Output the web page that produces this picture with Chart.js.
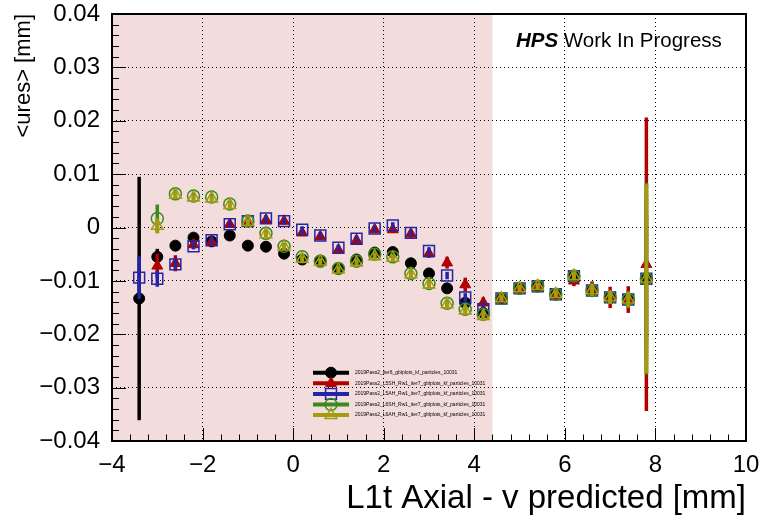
<!DOCTYPE html>
<html>
<head>
<meta charset="utf-8">
<script src="https://cdn.jsdelivr.net/npm/chart.js@4.4.0/dist/chart.umd.min.js"></script>
<style>
  html, body { margin: 0; padding: 0; background: #fff; }
  #wrap { width: 773px; height: 521px; }
</style>
</head>
<body>
<div id="wrap"><canvas id="chart" width="773" height="521"></canvas></div>
<script>
// bin centres, L1t Axial - v predicted [mm]
const binCenters = [-3.4, -3.0, -2.6, -2.2, -1.8, -1.4, -1.0, -0.6, -0.2, 0.2, 0.6, 1.0, 1.4, 1.8, 2.2,
                    2.6, 3.0, 3.4, 3.8, 4.2, 4.6, 5.0, 5.4, 5.8, 6.2, 6.6, 7.0, 7.4, 7.8];

// <ures> [mm] per sample, null = empty bin
const iter6Res = [-0.0133, -0.0055, -0.0034, -0.0019, -0.0026, -0.0015, -0.0034, -0.0036, -0.0049, -0.0060,
                  -0.0062, -0.0077, -0.0060, -0.0047, -0.0046, -0.0067, -0.0086, -0.0114, -0.0141, -0.0160,
                  -0.0133, -0.0114, -0.0110, -0.0125, -0.0091, -0.0118, -0.0131, -0.0135, -0.0096];
const iter6Err = [0.0228, 0.0015, 0.0008, 0.0006, 0.0006, 0.0006, 0.0006, 0.0006, 0.0006, 0.0006,
                  0.0006, 0.0006, 0.0006, 0.0006, 0.0006, 0.0006, 0.0006, 0.0007, 0.0008, 0.0010,
                  0.0006, 0.0006, 0.0006, 0.0007, 0.0008, 0.0010, 0.0012, 0.0015, 0.0150];

const l5shRes = [null, -0.0072, -0.0067, -0.0032, -0.0027, 0.0006, 0.0012, 0.0014, 0.0012, -0.0010,
                 -0.0017, -0.0042, -0.0024, -0.0004, -0.0004, -0.0012, -0.0049, -0.0066, -0.0107, -0.0141,
                 -0.0133, -0.0116, -0.0111, -0.0128, -0.0100, -0.0115, -0.0131, -0.0135, -0.0069];
const l5shErr = [null, 0.0023, 0.0015, 0.0008, 0.0007, 0.0006, 0.0006, 0.0006, 0.0006, 0.0006,
                 0.0006, 0.0006, 0.0006, 0.0006, 0.0006, 0.0007, 0.0008, 0.0011, 0.0013, 0.0010,
                 0.0008, 0.0007, 0.0007, 0.0008, 0.0010, 0.0014, 0.0020, 0.0025, 0.0275];

const l5ahRes = [-0.0094, -0.0096, -0.0069, -0.0035, -0.0024, 0.0006, 0.0012, 0.0017, 0.0012, -0.0004,
                 -0.0015, -0.0038, -0.0021, -0.0002, 0.0004, -0.0010, -0.0044, -0.0090, -0.0131, -0.0153,
                 -0.0133, -0.0114, -0.0110, -0.0125, -0.0091, -0.0118, -0.0131, -0.0135, -0.0096];
const l5ahErr = [0.0040, 0.0015, 0.0008, 0.0006, 0.0006, 0.0006, 0.0006, 0.0006, 0.0006, 0.0006,
                 0.0006, 0.0006, 0.0006, 0.0006, 0.0006, 0.0006, 0.0007, 0.0007, 0.0008, 0.0009,
                 0.0006, 0.0006, 0.0006, 0.0007, 0.0008, 0.0010, 0.0012, 0.0015, 0.0120];

const l6shRes = [null, 0.0017, 0.0063, 0.0059, 0.0057, 0.0044, 0.0012, -0.0011, -0.0035, -0.0055,
                 -0.0063, -0.0077, -0.0063, -0.0050, -0.0055, -0.0086, -0.0105, -0.0142, -0.0153, -0.0163,
                 -0.0133, -0.0114, -0.0110, -0.0125, -0.0091, -0.0118, -0.0131, -0.0135, -0.0096];
const l6shErr = [null, 0.0026, 0.0008, 0.0006, 0.0006, 0.0006, 0.0006, 0.0006, 0.0006, 0.0006,
                 0.0006, 0.0006, 0.0006, 0.0006, 0.0006, 0.0006, 0.0007, 0.0007, 0.0008, 0.0009,
                 0.0006, 0.0006, 0.0006, 0.0007, 0.0008, 0.0010, 0.0012, 0.0015, 0.0180];

const l6ahRes = [null, 0.0003, 0.0061, 0.0056, 0.0054, 0.0042, 0.0010, -0.0013, -0.0036, -0.0059,
                 -0.0064, -0.0079, -0.0066, -0.0054, -0.0057, -0.0088, -0.0107, -0.0144, -0.0156, -0.0166,
                 -0.0133, -0.0114, -0.0110, -0.0125, -0.0091, -0.0118, -0.0131, -0.0135, -0.0096];
const l6ahErr = [null, 0.0014, 0.0008, 0.0006, 0.0006, 0.0006, 0.0006, 0.0006, 0.0006, 0.0006,
                 0.0006, 0.0006, 0.0006, 0.0006, 0.0006, 0.0006, 0.0007, 0.0007, 0.0008, 0.0009,
                 0.0006, 0.0006, 0.0006, 0.0007, 0.0008, 0.0010, 0.0012, 0.0015, 0.0177];

const seriesNames = [
    '2019Pass2_iter6_gblplots_kf_particles_10031',
    '2019Pass2_L5SH_Rw1_iter7_gblplots_kf_particles_10031',
    '2019Pass2_L5AH_Rw1_iter7_gblplots_kf_particles_10031',
    '2019Pass2_L6SH_Rw1_iter7_gblplots_kf_particles_10031',
    '2019Pass2_L6AH_Rw1_iter7_gblplots_kf_particles_10031'
];

// shaded band on x
const bandLow = -4;
const bandHigh = 4.4;

const FONT = '"Liberation Sans", Arial, Helvetica, sans-serif';

function toPoints(res, err) {
    const pts = [];
    binCenters.forEach((x, i) => {
        if (res[i] !== null) pts.push({ x: x, y: res[i], err: err[i] });
    });
    return pts;
}

function fmtTick(value) {
    const v = Math.round(value * 1000) / 1000;
    return String(v).replace('-', '\u2212');
}

// vertical error bars, drawn just before each dataset's markers
const errorBars = {
    id: 'errorBars',
    beforeDatasetDraw(chart, args) {
        const ds = chart.data.datasets[args.index];
        const { ctx, chartArea: a, scales: { x, y } } = chart;
        ctx.save();
        ctx.beginPath();
        ctx.rect(a.left, a.top, a.right - a.left, a.bottom - a.top);
        ctx.clip();
        ctx.strokeStyle = ds.borderColor;
        ctx.lineWidth = ds.errWidth;
        ds.data.forEach(p => {
            const px = x.getPixelForValue(p.x);
            ctx.beginPath();
            ctx.moveTo(px, y.getPixelForValue(p.y + p.err));
            ctx.lineTo(px, y.getPixelForValue(p.y - p.err));
            ctx.stroke();
        });
        ctx.restore();
    }
};

const band = {
    id: 'band',
    beforeDraw(chart) {
        const { ctx, chartArea: a, scales: { x } } = chart;
        ctx.save();
        ctx.fillStyle = '#f2dcdc';
        const x0 = x.getPixelForValue(bandLow);
        const x1 = x.getPixelForValue(bandHigh);
        ctx.fillRect(x0, a.top, x1 - x0, a.bottom - a.top);
        ctx.restore();
    }
};

// ROOT-like frame with inward ticks
const frame = {
    id: 'frame',
    afterDatasetsDraw(chart) {
        const { ctx, chartArea: a, scales: { x, y } } = chart;
        ctx.save();
        ctx.strokeStyle = '#000';
        ctx.lineWidth = 1;
        ctx.beginPath();
        for (let k = 0; k <= 35; k++) {
            const px = Math.round(x.getPixelForValue(-4 + k * 0.4)) + 0.5;
            const len = k % 5 === 0 ? 13 : 6.5;
            ctx.moveTo(px, a.bottom);
            ctx.lineTo(px, a.bottom - len);
        }
        for (let k = 0; k <= 40; k++) {
            const py = Math.round(y.getPixelForValue(-0.04 + k * 0.002)) + 0.5;
            const len = k % 5 === 0 ? 14 : 7;
            ctx.moveTo(a.left, py);
            ctx.lineTo(a.left + len, py);
        }
        ctx.stroke();
        ctx.lineWidth = 2;
        ctx.strokeRect(a.left, a.top, a.right - a.left, a.bottom - a.top);
        ctx.restore();
    }
};

const legendBox = {
    id: 'legendBox',
    afterDraw(chart) {
        const ctx = chart.ctx;
        ctx.save();
        chart.data.datasets.forEach((ds, i) => {
            const rowY = 372.7 + i * 10.6;
            ctx.strokeStyle = ds.borderColor;
            ctx.lineWidth = 4;
            ctx.beginPath();
            ctx.moveTo(313, rowY);
            ctx.lineTo(349, rowY);
            ctx.stroke();
            ctx.fillStyle = ds.backgroundColor;
            ctx.lineWidth = ds.borderWidth;
            Chart.helpers.drawPoint(ctx, {
                pointStyle: ds.pointStyle, rotation: 0,
                radius: ds.pointRadius, borderWidth: ds.borderWidth
            }, 331, rowY);
            ctx.fillStyle = '#000';
            ctx.font = '5px ' + FONT;
            ctx.textBaseline = 'middle';
            ctx.fillText(seriesNames[i], 355, rowY);
        });

        // experiment tag
        ctx.fillStyle = '#000';
        ctx.textBaseline = 'alphabetic';
        ctx.font = 'italic bold 20.5px ' + FONT;
        ctx.fillText('HPS', 516, 47);
        const w = ctx.measureText('HPS').width;
        ctx.font = '20.5px ' + FONT;
        ctx.fillText(' Work In Progress', 516 + w, 47);
        ctx.restore();
    }
};

function series(i, res, err, color, style, radius, filled, order, errWidth) {
    return {
        label: seriesNames[i],
        data: toPoints(res, err),
        borderColor: color,
        backgroundColor: filled ? color : 'rgba(0,0,0,0)',
        pointStyle: style,
        pointRadius: radius,
        pointHoverRadius: radius,
        borderWidth: filled ? 1 : 1.5,
        showLine: false,
        order: order,
        errWidth: errWidth
    };
}

const ctx = document.getElementById('chart').getContext('2d');
new Chart(ctx, {
    type: 'scatter',
    data: {
        datasets: [
            series(0, iter6Res, iter6Err, '#000000', 'circle', 5.5, true, 5, 3.5),
            series(1, l5shRes, l5shErr, '#b00000', 'triangle', 6.3, true, 4, 3.5),
            series(2, l5ahRes, l5ahErr, '#2424a6', 'rect', 7.7, false, 3, 3.5),
            series(3, l6shRes, l6shErr, '#3a8a1e', 'circle', 6, false, 2, 3.5),
            series(4, l6ahRes, l6ahErr, '#a39c10', 'triangle', 6.7, false, 1, 4)
        ]
    },
    options: {
        responsive: false,
        animation: false,
        devicePixelRatio: 1,
        layout: { padding: { top: 14, right: 27, left: 0, bottom: 0 } },
        plugins: {
            legend: { display: false },
            tooltip: { enabled: false }
        },
        scales: {
            x: {
                type: 'linear',
                min: -4,
                max: 10,
                afterFit: s => { s.height = 80; s.paddingLeft = 0; s.paddingRight = 0; },
                ticks: {
                    stepSize: 2,
                    color: '#000',
                    padding: 10,
                    font: { family: FONT, size: 24 },
                    maxRotation: 0,
                    callback: fmtTick
                },
                grid: { color: '#000', lineWidth: 1, drawTicks: false },
                border: { display: false, dash: [1, 3] },
                title: {
                    display: true,
                    text: 'L1t Axial - v predicted [mm]',
                    align: 'end',
                    color: '#000',
                    font: { family: FONT, size: 33 },
                    padding: { top: 0, bottom: 2 }
                }
            },
            y: {
                type: 'linear',
                min: -0.04,
                max: 0.04,
                afterFit: s => { s.width = 112; s.paddingTop = 0; s.paddingBottom = 0; },
                ticks: {
                    stepSize: 0.01,
                    color: '#000',
                    padding: 12,
                    font: { family: FONT, size: 24 },
                    callback: fmtTick
                },
                grid: { color: '#000', lineWidth: 1, drawTicks: false },
                border: { display: false, dash: [1, 3] },
                title: {
                    display: true,
                    text: '<ures> [mm]',
                    align: 'end',
                    color: '#000',
                    font: { family: FONT, size: 22 },
                    padding: { top: 11, bottom: 0 }
                }
            }
        }
    },
    plugins: [band, errorBars, frame, legendBox]
});
</script>
</body>
</html>
